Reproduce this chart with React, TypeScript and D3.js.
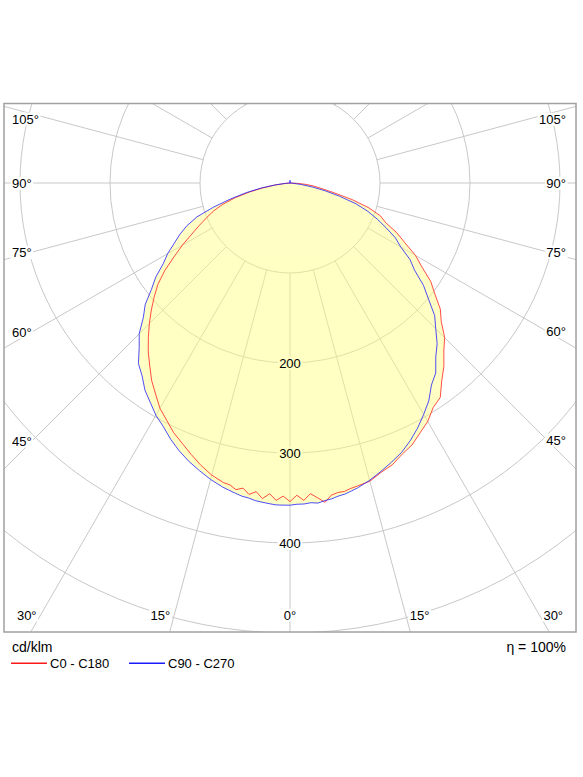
import { useEffect, useRef } from 'react';
import * as d3 from 'd3';

// gamma angles (deg, 0 = straight down) of the read-off points
const GAMMA = [0, 1.25, 2.5, 3.75, 5, 6.25, 7.5, 8.75, 10, 11.25, 12.5, 15, 17.5, 20, 22.5, 25, 27.5, 30, 32.5, 35, 37.5, 40, 42.5, 45, 47.5, 50, 52.5, 55, 57.5, 60, 62.5, 65, 67.5, 70, 72.5, 75, 77.5, 80, 82.5, 85, 87.5, 90, 180];

// intensities in cd/klm
const C0 = [354, 347, 353, 346, 351, 357, 350, 348, 348, 346, 345, 343, 337, 333, 326, 321, 313, 306, 296, 291, 277, 266, 253, 243, 228, 218, 203, 191, 174, 161, 144, 131, 115, 107, 92, 72, 50, 36, 27, 18, 8, 0, 0];
const C180 = [354, 348, 353, 346, 352, 345, 349, 343, 346, 342, 341, 336, 329, 321, 313, 306, 297, 289, 278, 268, 256, 245, 233, 221, 209, 197, 185, 170, 153, 138, 123, 111, 100, 90, 78, 63, 46, 30, 16, 6, 0, 0, 0];
const C90 = [358, 357, 357, 356, 357, 355, 354, 352, 351, 349, 347, 342, 336, 330, 324, 316, 307, 297, 287, 274, 266, 252, 242, 229, 218, 201, 187, 169, 158, 142, 132, 118, 105, 92, 77, 57, 40, 25, 12, 3, 0, 0, 3];
const C270 = [358, 358, 358, 357, 356, 355, 353, 352, 350, 348, 346, 341, 335, 329, 322, 314, 305, 298, 289, 281, 270, 262, 248, 237, 221, 210, 194, 182, 167, 157, 145, 135, 124, 110, 89, 68, 50, 33, 17, 5, 0, 0, 3];

const RINGS = [100, 200, 300, 400, 500];
const RING_LABELS = [200, 300, 400];
const SPOKES = [0, 15, 30, 45, 60, 75, 90, 105, 120, 135, 150, 165, 180];
const EDGE_LABELS = [105, 90, 75, 60, 45];
const BOTTOM_LABELS = [30, 15, 0];

const FONT = 'Liberation Sans, Arial, Helvetica, sans-serif';

export default function App() {
  const svgRef = useRef<SVGSVGElement>(null);

  useEffect(() => {
    if (!svgRef.current) return;
    const svg = d3.select(svgRef.current);
    svg.selectAll('*').remove();

    const fr = { x0: 4, y0: 103.5, x1: 576, y1: 632 };
    const cx = 290;
    const cy = 183;
    const r = d3.scaleLinear().domain([0, 500]).range([0, 450]);
    const rad = (deg: number) => (deg * Math.PI) / 180;

    svg.append('defs').append('clipPath').attr('id', 'frameClip')
      .append('rect')
      .attr('x', fr.x0).attr('y', fr.y0)
      .attr('width', fr.x1 - fr.x0).attr('height', fr.y1 - fr.y0);

    const gGrid = svg.append('g').attr('clip-path', 'url(#frameClip)');
    const gBg = svg.append('g');
    const gFill = svg.append('g').attr('opacity', 0.46).attr('clip-path', 'url(#frameClip)');
    const gCurves = svg.append('g').attr('clip-path', 'url(#frameClip)');
    const gText = svg.append('g').attr('font-family', FONT).attr('font-size', 13).attr('fill', '#000');

    // rings
    gGrid.selectAll('circle').data(RINGS).join('circle')
      .attr('cx', cx).attr('cy', cy).attr('r', d => r(d))
      .attr('fill', 'none').attr('stroke', '#c8c8c8').attr('stroke-width', 1);

    // spokes, starting at the first ring
    const spokes: { a: number; s: number }[] = [];
    SPOKES.forEach(a => {
      spokes.push({ a, s: 1 });
      if (a !== 0 && a !== 180) spokes.push({ a, s: -1 });
    });
    gGrid.selectAll('line').data(spokes).join('line')
      .attr('x1', d => cx + d.s * r(100) * Math.sin(rad(d.a)))
      .attr('y1', d => cy + r(100) * Math.cos(rad(d.a)))
      .attr('x2', d => cx + d.s * r(1000) * Math.sin(rad(d.a)))
      .attr('y2', d => cy + r(1000) * Math.cos(rad(d.a)))
      .attr('stroke', '#c8c8c8').attr('stroke-width', 1);

    // curves
    const pts = (right: number[], left: number[]) => {
      const out: { a: number; v: number }[] = [];
      for (let i = GAMMA.length - 1; i >= 0; i--) out.push({ a: Math.PI - rad(GAMMA[i]), v: right[i] });
      for (let i = 0; i < GAMMA.length; i++) out.push({ a: Math.PI + rad(GAMMA[i]), v: left[i] });
      return out;
    };
    const line = d3.lineRadial<{ a: number; v: number }>()
      .angle(d => d.a).radius(d => r(d.v)).curve(d3.curveLinear);

    const planes = [
      { data: pts(C0, C180), color: '#ff2020' },
      { data: pts(C90, C270), color: '#2020ff' },
    ];

    gFill.selectAll('path').data(planes).join('path')
      .attr('transform', `translate(${cx},${cy})`)
      .attr('d', d => line(d.data) + 'Z')
      .attr('fill', '#ffff80').attr('stroke', 'none');

    gCurves.selectAll('path').data(planes).join('path')
      .attr('transform', `translate(${cx},${cy})`)
      .attr('d', d => line(d.data))
      .attr('fill', 'none').attr('stroke', d => d.color).attr('stroke-width', 0.8);

    // labels with a box behind them
    const addLabel = (txt: string, x: number, y: number, anchor: string) => {
      const t = gText.append('text')
        .attr('x', x).attr('y', y).attr('dy', '0.36em')
        .attr('text-anchor', anchor).text(txt);
      const b = (t.node() as SVGTextElement).getBBox();
      gBg.append('rect')
        .attr('x', b.x - 1.5).attr('y', b.y + 1)
        .attr('width', b.width + 3).attr('height', b.height - 2)
        .attr('fill', '#fff');
    };

    RING_LABELS.forEach(v => addLabel(String(v), cx, cy + r(v), 'middle'));

    EDGE_LABELS.forEach(g => {
      const cot = Math.abs(g - 90) < 1e-6 ? 0 : 1 / Math.tan(rad(g));
      const shift = g > 90 ? 5 : 0;
      addLabel(`${g}°`, 12, cy + (cx - 32) * cot + shift, 'start');
      addLabel(`${g}°`, 566, cy + (547 - cx) * cot + shift, 'end');
    });

    const yb = 615;
    BOTTOM_LABELS.forEach(g => {
      const dx = (yb - cy) * Math.tan(rad(g));
      if (g === 0) {
        addLabel('0°', cx, yb, 'middle');
      } else {
        addLabel(`${g}°`, cx - dx - 4, yb, 'end');
        addLabel(`${g}°`, cx + dx + 4, yb, 'start');
      }
    });

    // frame
    svg.append('rect')
      .attr('x', fr.x0).attr('y', fr.y0)
      .attr('width', fr.x1 - fr.x0).attr('height', fr.y1 - fr.y0)
      .attr('fill', 'none').attr('stroke', '#a0a0a0').attr('stroke-width', 1.5);

    // footer
    const foot = svg.append('g').attr('font-family', FONT).attr('font-size', 14).attr('fill', '#000');
    foot.append('text').attr('x', 12).attr('y', 652).text('cd/klm');
    foot.append('text').attr('x', 566).attr('y', 652).attr('text-anchor', 'end').text('η =  100%');

    const legend = [
      { label: 'C0 - C180', color: '#ff1a1a', x: 11 },
      { label: 'C90 - C270', color: '#1a1aff', x: 129 },
    ];
    const lg = svg.append('g').attr('font-family', FONT).attr('font-size', 13);
    legend.forEach(l => {
      lg.append('rect')
        .attr('x', l.x).attr('y', 662.5).attr('width', 36).attr('height', 1.5)
        .style('fill', l.color).style('stroke', 'none');
      lg.append('text').attr('x', l.x + 39).attr('y', 668).style('fill', '#000').text(l.label);
    });
  }, []);

  return (
    <svg
      ref={svgRef}
      width={583}
      height={777}
      style={{ position: 'absolute', left: 0, top: 0, background: '#fff' }}
    />
  );
}
